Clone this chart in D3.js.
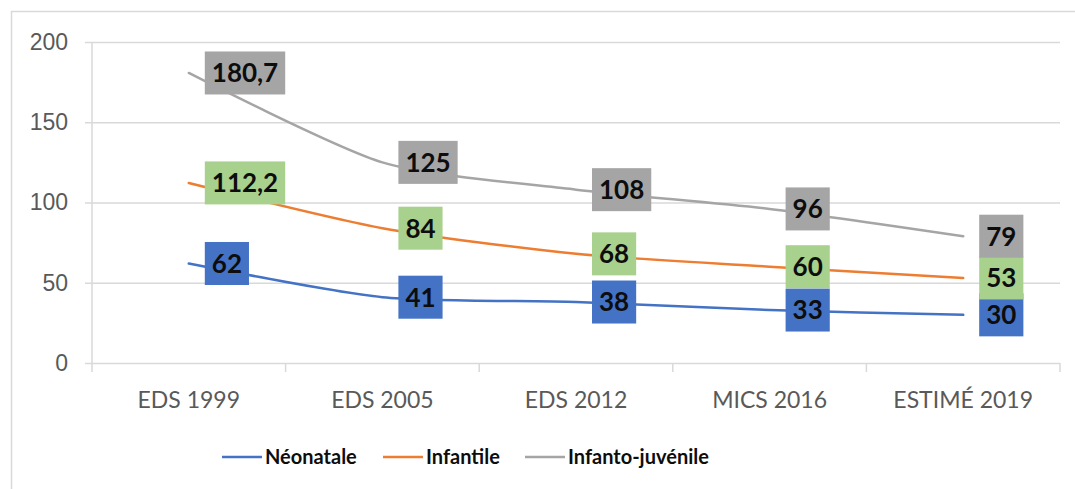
<!DOCTYPE html>
<html>
<head>
<meta charset="utf-8">
<script src="https://cdn.jsdelivr.net/npm/d3@7"></script>
<style>
  html, body { margin: 0; padding: 0; background: #fff; }
  svg { display: block; font-family: Lato, "Liberation Sans", sans-serif; }
</style>
</head>
<body>
<svg id="chart" width="1075" height="489"></svg>
<script>
// Mortality rates (per 1000) by survey
const categories = ["EDS 1999", "EDS 2005", "EDS 2012", "MICS 2016", "ESTIMÉ 2019"];
const neonatale = [62, 41, 38, 33, 30];
const infantile = [112.2, 84, 68, 60, 53];
const infantoJuvenile = [180.7, 125, 108, 96, 79];
const yTicks = [0, 50, 100, 150, 200];

const seriesDefs = [
  { name: "Néonatale", values: neonatale, line: "#4472c4", box: "#4472c4" },
  { name: "Infantile", values: infantile, line: "#ed7d31", box: "#a9d18e" },
  { name: "Infanto-juvénile", values: infantoJuvenile, line: "#a5a5a5", box: "#a5a5a5" }
];

const svg = d3.select("#chart");
const W = 1075, H = 489;
const plot = { left: 92, right: 1060, top: 42, bottom: 363 };

const fmt = v => String(v).replace(".", ",");

// outer frame (top and left edges)
svg.append("line").attr("x1", 11).attr("x2", W).attr("y1", 11.5).attr("y2", 11.5)
  .attr("stroke", "#d9d9d9").attr("stroke-width", 1.5);
svg.append("line").attr("x1", 11.5).attr("x2", 11.5).attr("y1", 11).attr("y2", H)
  .attr("stroke", "#d9d9d9").attr("stroke-width", 1.5);

const x = d3.scalePoint().domain(categories).range([plot.left, plot.right]).padding(0.5);
const y = d3.scaleLinear().domain([0, 200]).range([plot.bottom, plot.top]);

// y axis with gridlines
const yAxis = svg.append("g").attr("transform", `translate(${plot.left},0)`)
  .call(d3.axisLeft(y).tickValues(yTicks).tickSize(-(plot.right - plot.left)).tickPadding(24).tickFormat(d3.format("d")));
yAxis.select(".domain").remove();
yAxis.selectAll(".tick line").attr("stroke", "#d9d9d9").attr("stroke-width", 1.5).attr("x1", -7);
yAxis.selectAll(".tick text").attr("fill", "#595959").style("font-size", "23px");

// vertical axis line
svg.append("line").attr("x1", plot.left).attr("x2", plot.left).attr("y1", plot.top).attr("y2", plot.bottom)
  .attr("stroke", "#d9d9d9").attr("stroke-width", 1.5);

// x axis: category boundaries as ticks
const step = x.step();
const bounds = d3.range(categories.length + 1).map(i => plot.left + i * step);
svg.append("g").selectAll("line").data(bounds).join("line")
  .attr("x1", d => d).attr("x2", d => d).attr("y1", plot.bottom).attr("y2", plot.bottom + 9)
  .attr("stroke", "#d9d9d9").attr("stroke-width", 1.5);
svg.append("g").selectAll("text").data(categories).join("text")
  .attr("x", d => x(d)).attr("y", 408)
  .attr("text-anchor", "middle").attr("fill", "#595959").style("font-size", "23px")
  .text(d => d);

// series lines
const line = d3.line()
  .x((d, i) => x(categories[i]))
  .y(d => y(d))
  .curve(d3.curveCardinal.tension(0.3));

seriesDefs.forEach(s => {
  svg.append("path").datum(s.values)
    .attr("d", line).attr("fill", "none")
    .attr("stroke", s.line).attr("stroke-width", 2.5).attr("stroke-linecap", "round");
});

// data labels in filled boxes, right of each point
const pad = 7, boxH = 43, offset = 16;
seriesDefs.forEach(s => {
  const g = svg.append("g");
  s.values.forEach((v, i) => {
    const px = x(categories[i]), py = y(v);
    const lg = g.append("g");
    const rect = lg.append("rect");
    const t = lg.append("text")
      .attr("x", px + offset + pad).attr("y", py)
      .attr("dy", "0.36em")
      .attr("fill", "#0d0d0d").style("font-size", "26px").style("font-weight", "bold")
      .text(fmt(v));
    const w = t.node().getComputedTextLength();
    rect.attr("x", px + offset).attr("y", py - boxH / 2)
      .attr("width", w + 2 * pad).attr("height", boxH).attr("fill", s.box);
  });
});

// legend
const legend = svg.append("g");
const legendX = [222, 383, 525];
seriesDefs.forEach((s, i) => {
  const lx = legendX[i];
  legend.append("line").attr("x1", lx).attr("x2", lx + 40).attr("y1", 457).attr("y2", 457)
    .attr("stroke", s.line).attr("stroke-width", 2.5);
  legend.append("text").attr("x", lx + 43).attr("y", 457).attr("dy", "0.36em")
    .attr("fill", "#0d0d0d").style("font-size", "20px").style("font-weight", "bold").text(s.name);
});
</script>
</body>
</html>
